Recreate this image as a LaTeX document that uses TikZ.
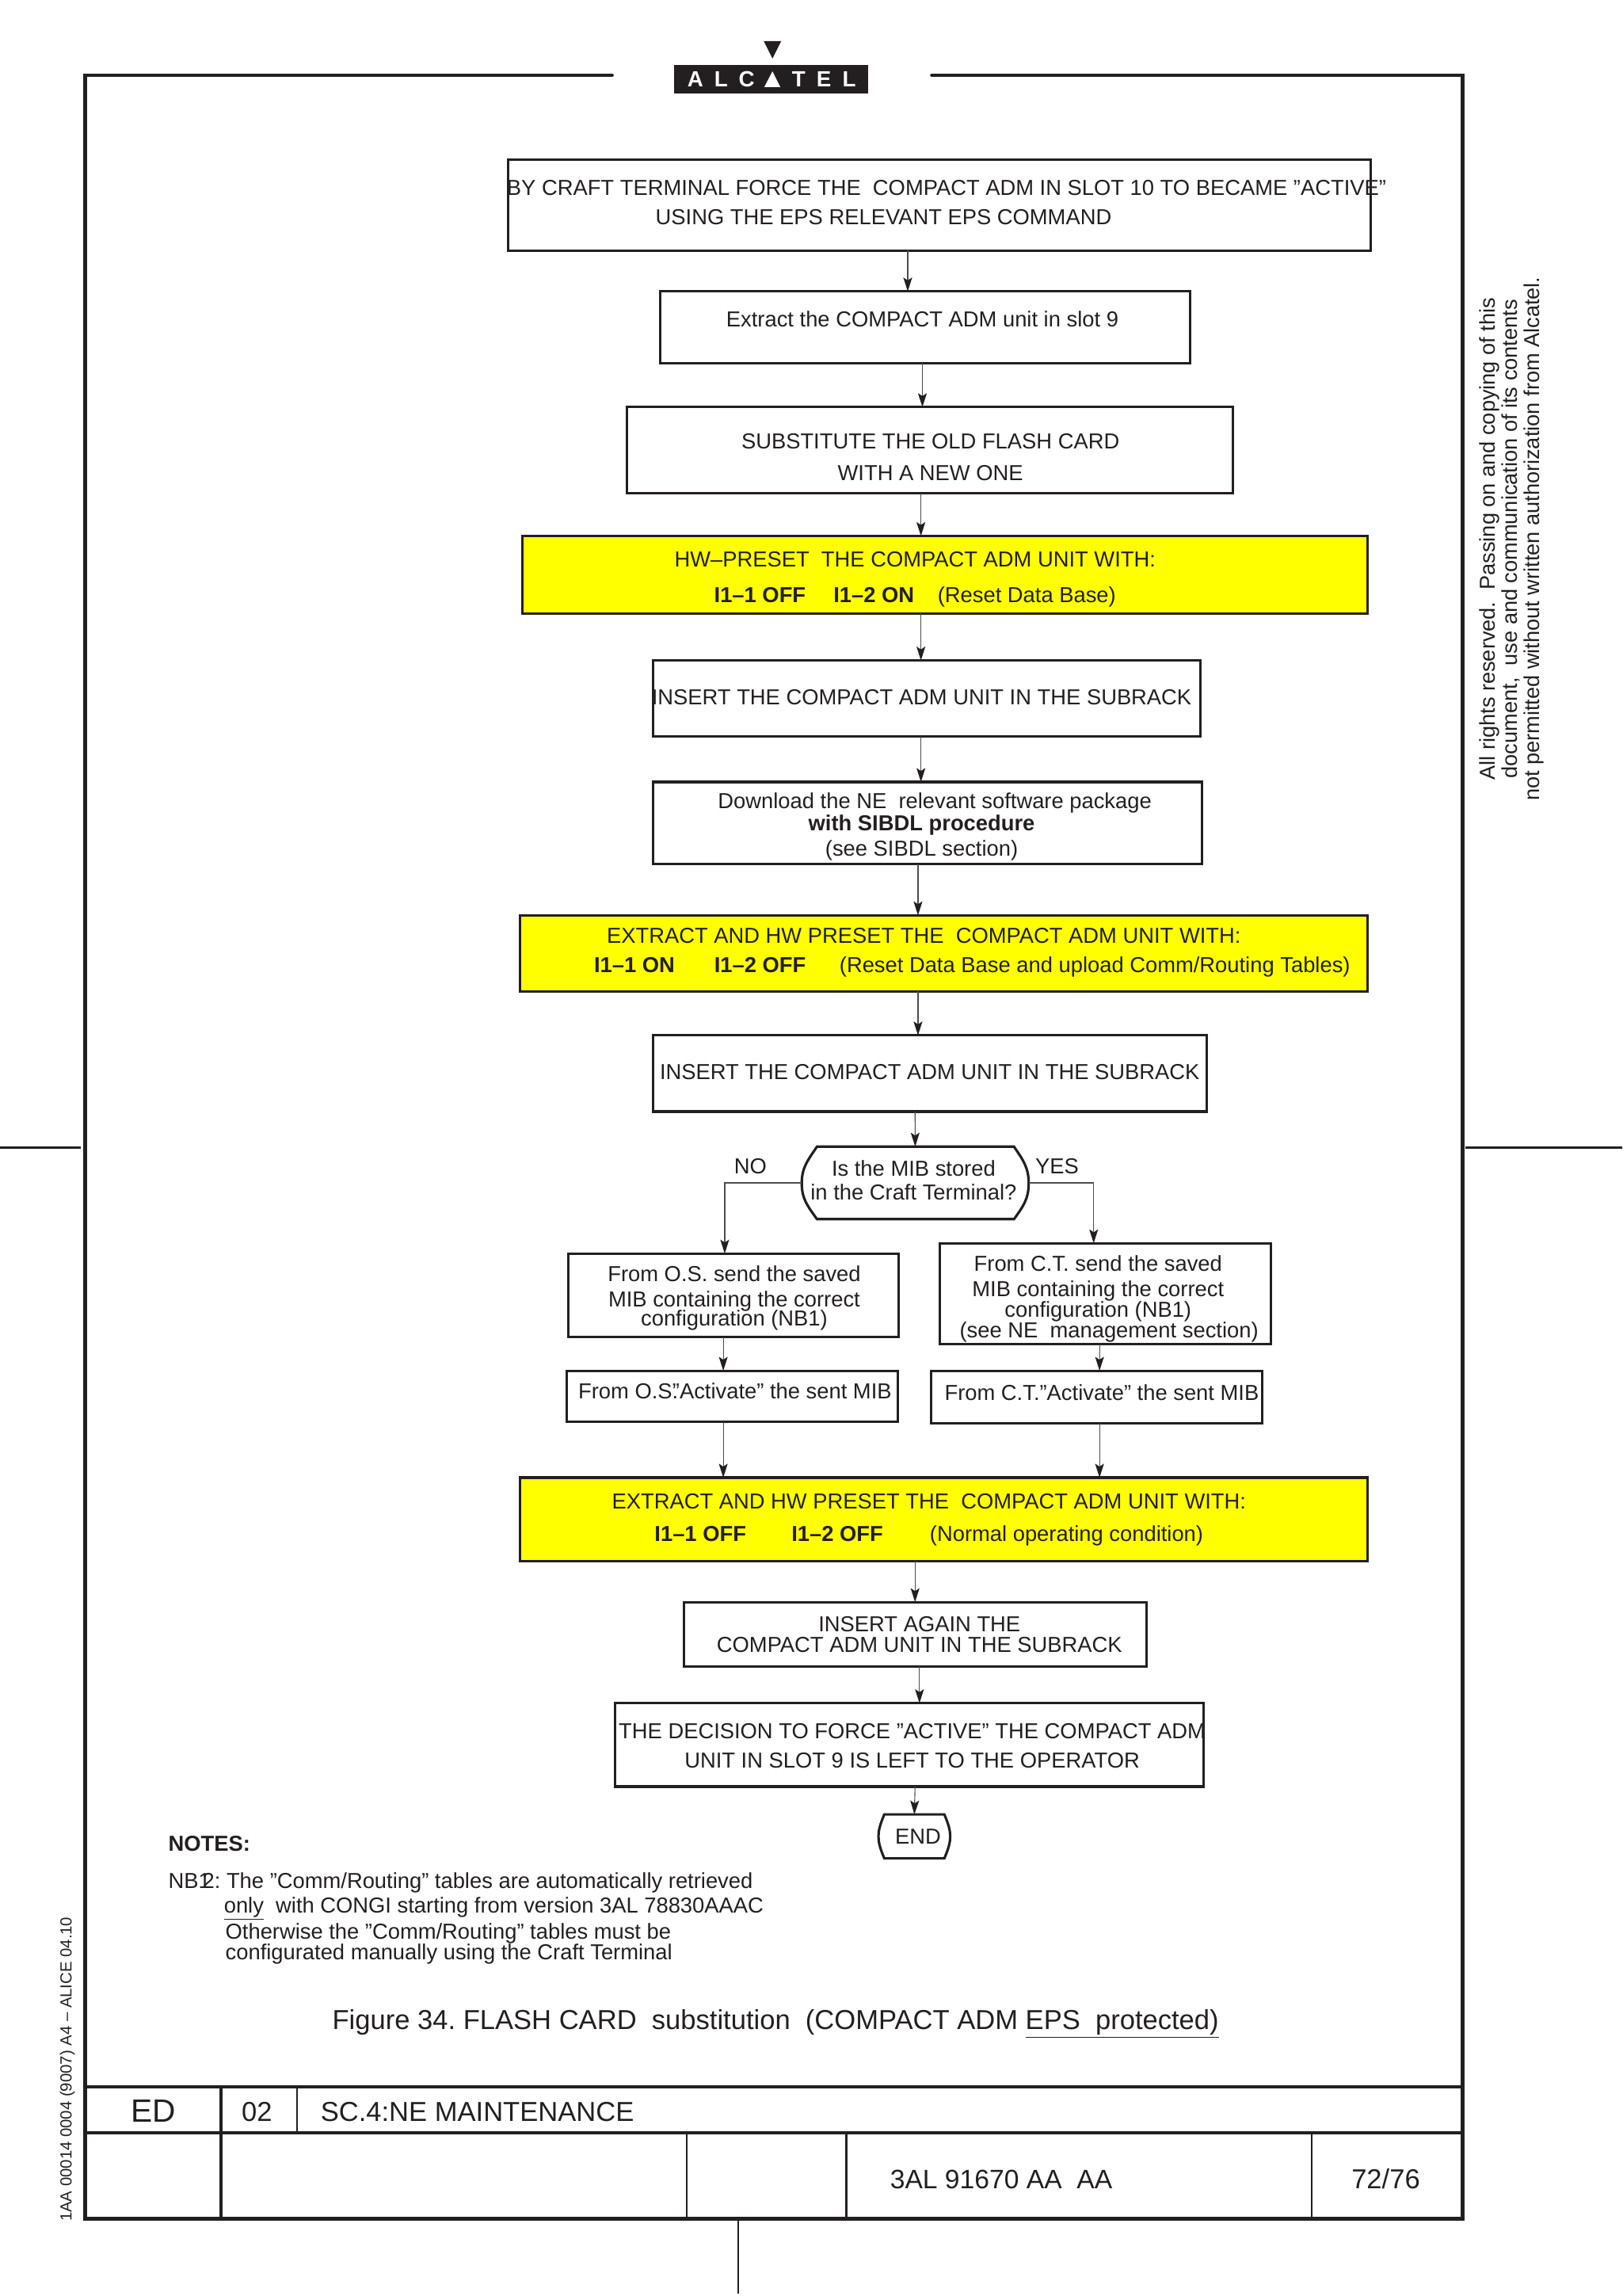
\documentclass[tikz,border=0pt]{standalone}
\usepackage{fontspec}
\setmainfont{Liberation Sans}
\usetikzlibrary{arrows.meta}
\definecolor{inkblack}{HTML}{231F20}
\definecolor{presetyellow}{HTML}{FFFF00}
\frenchspacing
\tikzset{
  stepbox/.style={draw=inkblack, line width=1.7pt, inner sep=0pt, outer sep=0pt},
  presetbox/.style={stepbox, fill=presetyellow},
  anchorbox/.style={inner sep=0pt, outer sep=0pt},
  txt/.style={inner sep=0pt, outer sep=0pt, align=center, text=inkblack,
    font=\fontsize{14.8}{14.8}\selectfont, text height=10.6pt, text depth=0pt},
  notetxt/.style={txt, anchor=west, align=left},
  bigtxt/.style={txt, font=\fontsize{18.7}{18.7}\selectfont, text height=13.4pt},
  sidetxt/.style={txt, rotate=90, font=\fontsize{14.7}{14.7}\selectfont},
  logotxt/.style={inner sep=0pt, outer sep=0pt, text=white,
    font=\fontsize{15}{15}\selectfont\bfseries, text height=10.75pt, text depth=0pt},
  flow/.style={draw=black!70, line width=0.6pt, -{Stealth[length=9.5pt, width=6pt, inset=2pt, color=inkblack]}},
  frameline/.style={draw=inkblack, line width=2.5pt},
  cellline/.style={draw=inkblack, line width=1pt}
}
\begin{document}
\begin{tikzpicture}[x=1pt, y=-1pt]
\useasboundingbox (0,0) rectangle (1108,1567.86);
\draw[frameline, line cap=round] (418,51.4) -- (58,51.4) -- (58,1515) -- (999,1515) -- (999,51.4) -- (636.5,51.4);
\draw[frameline] (58,1425) -- (999,1425);
\draw[frameline, line width=2.1pt] (58,1456.5) -- (999,1456.5);
\draw[frameline, line width=1.8pt] (151,1425) -- (151,1515);
\draw[cellline, line width=0.8pt] (203,1425) -- (203,1456.5);
\draw[cellline] (469,1456.5) -- (469,1515);
\draw[cellline, line width=1.5pt] (578,1456.5) -- (578,1515);
\draw[cellline] (896,1456.5) -- (896,1515);
\draw[cellline] (504,1515) -- (504,1566);
\draw[cellline, line width=1.4pt] (0,783.5) -- (55,783.5);
\draw[cellline, line width=1.4pt] (1001,783.5) -- (1108,783.5);
\fill[inkblack] (521.6,28) -- (533.6,28) -- (527.6,40) -- cycle;
\fill[inkblack] (460.5,44.4) rectangle (593,63.9);
\node[logotxt] (logoa) at (475,54) {A};
\node[logotxt] (logob) at (492.5,54) {L};
\node[logotxt] (logoc) at (510,54) {C};
\fill[white] (522,59.5) -- (533,59.5) -- (527.6,48.7) -- cycle;
\node[logotxt] (logod) at (545.5,54) {T};
\node[logotxt] (logoe) at (562.7,54) {E};
\node[logotxt] (logof) at (580,54) {L};
\node[sidetxt] (rights) at (1016,368) {All rights reserved.\ \ Passing on and copying of this};
\node[sidetxt] (rightsb) at (1031,368) {document,\ \ use and communication of its contents};
\node[sidetxt] (rightsc) at (1046,368) {not permitted without written authorization from Alcatel.};
\node[txt, rotate=90, font=\fontsize{11}{11}\selectfont, text height=7.9pt] (edition) at (45,1413) {1AA 00014 0004 (9007) A4 -- ALICE 04.10};
\node[stepbox, minimum width=589pt, minimum height=62pt] (craft) at (641.5,140) {};
\node[txt] (craftt) at (646.5,148) {BY CRAFT TERMINAL FORCE THE\ \ COMPACT ADM IN SLOT 10 TO BECAME ”ACTIVE”\\[5.2pt]USING THE EPS RELEVANT EPS COMMAND\hspace*{86pt}};
\node[stepbox, minimum width=362pt, minimum height=49pt] (extract) at (632,223.5) {};
\node[txt] (extractt) at (630,218) {Extract the COMPACT ADM unit in slot 9};
\node[stepbox, minimum width=414pt, minimum height=59pt] (flash) at (635,307.5) {};
\node[txt] (flasht) at (635.5,323) {SUBSTITUTE THE OLD FLASH CARD\\[7.2pt]WITH A NEW ONE};
\node[presetbox, minimum width=577pt, minimum height=53pt] (presetone) at (645.5,392.5) {};
\node[txt] (presetonet) at (625,406) {HW–PRESET\ \ THE COMPACT ADM UNIT WITH:\\[9.2pt]\textbf{I1–1 OFF}\hspace{19pt}\textbf{I1–2 ON}\hspace{16pt}(Reset Data Base)};
\node[stepbox, minimum width=374pt, minimum height=52pt] (insertone) at (633,477) {};
\node[txt] (insertonet) at (629.5,476) {INSERT THE COMPACT ADM UNIT IN THE SUBRACK};
\node[stepbox, minimum width=375pt, minimum height=56pt] (download) at (633.5,562) {};
\node[txt] (downloadt) at (629.5,579) {\hspace*{18pt}Download the NE\ \ relevant software package\\[0.2pt]\textbf{with SIBDL procedure}\\[2.2pt](see SIBDL section)};
\node[presetbox, minimum width=579pt, minimum height=52pt] (presettwo) at (644.5,651) {};
\node[txt] (presettwot) at (664,659) {EXTRACT AND HW PRESET THE\ \ COMPACT ADM UNIT WITH:\hspace*{66pt}\\[5.2pt]\textbf{I1–1 ON}\hspace{27pt}\textbf{I1–2 OFF}\hspace{23pt}(Reset Data Base and upload Comm/Routing Tables)};
\node[stepbox, minimum width=378pt, minimum height=52pt] (inserttwo) at (635,733) {};
\node[txt] (inserttwot) at (635,732) {INSERT THE COMPACT ADM UNIT IN THE SUBRACK};
\draw[stepbox] (558,783) -- (692.6,783) .. controls (698.6,792) and (702.6,797) .. (702.6,808) .. controls (702.6,819) and (698.6,824) .. (692.6,832.5) -- (558,832.5) .. controls (552,824) and (547.6,819) .. (547.6,808) .. controls (547.6,797) and (552,792) .. (558,783) -- cycle;
\node[anchorbox, minimum width=155pt, minimum height=49.5pt] (mib) at (625.1,807.7) {};
\node[txt] (mibt) at (624,814) {Is the MIB stored\\[1.2pt]in the Craft Terminal?};
\node[txt] (nolabel) at (512.5,796) {NO};
\node[txt] (yeslabel) at (722,796) {YES};
\node[stepbox, minimum width=226pt, minimum height=57pt] (osmib) at (501,884.5) {};
\node[txt] (osmibt) at (501.5,900) {From O.S. send the saved\\[2.2pt]MIB containing the correct\\[-1.8pt]configuration (NB1)};
\node[stepbox, minimum width=226pt, minimum height=69pt] (ctmib) at (755,883.5) {};
\node[txt] (ctmibt) at (750,908) {From C.T. send the saved\\[2.2pt]MIB containing the correct\\[-0.8pt]configuration (NB1)\\[-0.8pt]\hspace*{15pt}(see NE\ \ management section)};
\node[stepbox, minimum width=226pt, minimum height=35pt] (osact) at (500,953.5) {};
\node[txt] (osactt) at (502,950) {From O.S.\kern-4pt”Activate” the sent MIB};
\node[stepbox, minimum width=226pt, minimum height=36pt] (ctact) at (749,954) {};
\node[txt] (ctactt) at (752.5,951) {From C.T.”Activate” the sent MIB};
\node[presetbox, minimum width=579pt, minimum height=57pt] (presetthree) at (644.5,1037.5) {};
\node[txt] (presetthreet) at (634.5,1047) {EXTRACT AND HW PRESET THE\ \ COMPACT ADM UNIT WITH:\\[7.2pt]\textbf{I1–1 OFF}\hspace{31pt}\textbf{I1–2 OFF}\hspace{32pt}(Normal operating condition)};
\node[stepbox, minimum width=316pt, minimum height=44pt] (again) at (625,1116) {};
\node[txt] (againt) at (628,1123) {INSERT AGAIN THE\\[-0.8pt]COMPACT ADM UNIT IN THE SUBRACK};
\node[stepbox, minimum width=402pt, minimum height=57pt] (decide) at (621,1191.5) {};
\node[txt] (decidet) at (623,1202) {THE DECISION TO FORCE ”ACTIVE” THE COMPACT ADM\\[5.2pt]UNIT IN SLOT 9 IS LEFT TO THE OPERATOR};
\draw[stepbox] (604,1239) -- (645,1239) .. controls (648,1246) and (649,1250) .. (649,1254) .. controls (649,1258) and (648,1262) .. (645,1269) -- (604,1269) .. controls (601,1262) and (600,1258) .. (600,1254) .. controls (600,1250) and (601,1246) .. (604,1239) -- cycle;
\node[anchorbox, minimum width=49pt, minimum height=30pt] (endstop) at (624.5,1254) {};
\node[txt] (endstopt) at (627,1254) {END};
\draw[flow] ([xshift=-21.5pt]craft.south) -- ([xshift=-12pt]extract.north);
\draw[flow] ([xshift=-2pt]extract.south) -- ([xshift=-5pt]flash.north);
\draw[flow] ([xshift=-6pt]flash.south) -- ([xshift=-16.5pt]presetone.north);
\draw[flow] ([xshift=-16.5pt]presetone.south) -- ([xshift=-4pt]insertone.north);
\draw[flow] ([xshift=-4pt]insertone.south) -- ([xshift=-4.5pt]download.north);
\draw[flow] ([xshift=-6.5pt]download.south) -- ([xshift=-17.5pt]presettwo.north);
\draw[flow] ([xshift=-17.5pt]presettwo.south) -- ([xshift=-8pt]inserttwo.north);
\draw[flow] ([xshift=-10pt]inserttwo.south) -- (mib.north);
\draw[flow] (mib.west) -| ([xshift=-6pt]osmib.north);
\draw[flow] (mib.east) -| ([xshift=-8pt]ctmib.north);
\draw[flow] ([xshift=-7pt]osmib.south) -- ([xshift=-6pt]osact.north);
\draw[flow] ([xshift=-4pt]ctmib.south) -- ([xshift=2pt]ctact.north);
\draw[flow] ([xshift=-6pt]osact.south) -- ([xshift=-150.5pt]presetthree.north);
\draw[flow] ([xshift=2pt]ctact.south) -- ([xshift=106.5pt]presetthree.north);
\draw[flow] ([xshift=-19.5pt]presetthree.south) -- (again.north);
\draw[flow] ([xshift=3pt]again.south) -- ([xshift=7pt]decide.north);
\draw[flow] ([xshift=4pt]decide.south) -- (endstop.north);
\node[notetxt] (notes) at (115,1259) {\textbf{NOTES:}};
\node[notetxt] (nbone) at (115,1284) {NB1\kern-5.5pt 2: The ”Comm/Routing” tables are automatically retrieved};
\node[notetxt] (nbtwo) at (153,1301) {\underline{only}\ \ with CONGI starting from version 3AL 78830AAAC};
\node[notetxt] (nbthree) at (154,1333) {Otherwise the ”Comm/Routing” tables must be\\[-0.8pt]configurated manually using the Craft Terminal};
\node[bigtxt, anchor=west] (caption) at (227,1379) {Figure 34. FLASH CARD\ \ substitution\ \ (COMPACT ADM \underline{EPS\ \ protected)}};
\node[bigtxt, font=\fontsize{22}{22}\selectfont, text height=15.8pt] (edlabel) at (105,1441) {ED};
\node[bigtxt] (edvalue) at (175.5,1442) {02};
\node[bigtxt, anchor=west] (section) at (219,1442) {SC.4:NE MAINTENANCE};
\node[bigtxt, anchor=west, font=\fontsize{18.2}{18.2}\selectfont] (docnum) at (608,1488) {3AL 91670 AA\ \ AA};
\node[bigtxt] (pagenum) at (946.5,1488) {72/76};
\end{tikzpicture}
\end{document}
